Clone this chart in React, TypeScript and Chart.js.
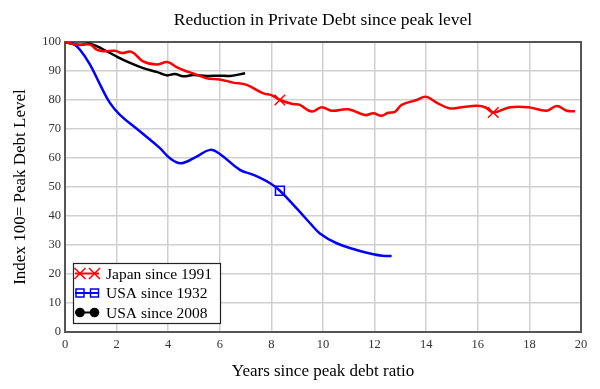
import React, { useEffect, useRef } from 'react';
import { Chart, registerables } from 'chart.js';

Chart.register(...registerables);

const chartTitle = 'Reduction in Private Debt since peak level';
const xAxisTitle = 'Years since peak debt ratio';
const yAxisTitle = 'Index 100= Peak Debt Level';
const seriesLabels = ['Japan since 1991', 'USA since 1932', 'USA since 2008'];
const seriesColors = ['#ff0000', '#0000ff', '#000000'];
const seriesMarkers = ['crossRot', 'rect', 'circle'];

const japanYears = [0, 0.45, 0.97, 1.23, 1.49, 1.94, 2.2, 2.58, 3.03, 3.55, 3.97, 4.33, 4.65, 4.97, 5.49, 6.0, 6.52, 7.04, 7.69, 8.0, 8.33, 8.85, 9.1, 9.56, 9.95, 10.34, 10.98, 11.63, 11.95, 12.27, 12.53, 12.8, 13.05, 13.63, 13.99, 14.4, 14.92, 15.45, 15.96, 16.28, 16.6, 17.25, 17.96, 18.67, 19.06, 19.45, 19.77];
const japanIndex = [100, 99.1, 99.1, 97.4, 96.8, 97, 96.2, 96.6, 93.3, 92.2, 93.1, 91.3, 90.1, 89.2, 87.5, 87.1, 86, 85.2, 82.3, 81.7, 80, 78.6, 78.3, 76, 77.5, 76.3, 76.8, 74.8, 75.4, 74.6, 75.6, 76, 78.3, 80, 81.1, 79.1, 77.1, 77.6, 78, 77.5, 75.7, 77.5, 77.5, 76.3, 77.9, 76.3, 76.1];
const japanMarkerYears = [8.33, 16.6];

const usa1932Years = [0, 0.3, 0.58, 0.97, 1.36, 1.74, 2.13, 2.9, 3.68, 4.07, 4.5, 5.1, 5.62, 6.0, 6.78, 7.3, 7.95, 8.33, 8.98, 9.5, 9.88, 10.53, 11.3, 11.95, 12.3, 12.66];
const usa1932Index = [100, 99.5, 97.3, 92.2, 85.3, 79, 74.9, 69.2, 63.4, 59.9, 58.2, 60.5, 62.8, 61.4, 55.9, 54.2, 51.3, 48.7, 42.6, 37.5, 34, 30.6, 28.3, 26.8, 26.3, 26.2];
const usa1932MarkerYears = [8.33];

const usa2008Years = [0, 0.32, 0.6, 0.97, 1.49, 2.0, 2.52, 3.03, 3.55, 3.94, 4.26, 4.58, 4.97, 5.49, 6.0, 6.4, 6.98];
const usa2008Index = [100, 99.3, 99, 99.4, 97.4, 95, 92.8, 91, 89.7, 88.5, 89, 88.2, 88.6, 88.3, 88.4, 88.3, 89.2];
const usa2008MarkerYears: number[] = [];

const FONT = "'Liberation Serif', 'Times New Roman', serif";

function toPoints(xs: number[], ys: number[]) {
  return xs.map((x, i) => ({ x, y: ys[i] }));
}

function drawMarker(ctx: CanvasRenderingContext2D, style: string, x: number, y: number, color: string) {
  ctx.save();
  ctx.strokeStyle = color;
  ctx.fillStyle = color;
  ctx.lineWidth = 1.5;
  ctx.beginPath();
  if (style === 'crossRot') {
    const r = 5.5;
    ctx.moveTo(x - r, y - r);
    ctx.lineTo(x + r, y + r);
    ctx.moveTo(x - r, y + r);
    ctx.lineTo(x + r, y - r);
    ctx.stroke();
  } else if (style === 'rect') {
    const r = 4;
    ctx.rect(x - r, y - r, 2 * r, 2 * r);
    ctx.stroke();
  } else {
    ctx.arc(x, y, 4.8, 0, Math.PI * 2);
    ctx.fill();
  }
  ctx.restore();
}

const framePlugin = {
  id: 'frame',
  beforeDatasetsDraw(chart: any) {
    const { ctx, chartArea } = chart;
    ctx.save();
    ctx.strokeStyle = '#555555';
    ctx.lineWidth = 2;
    ctx.strokeRect(chartArea.left, chartArea.top, chartArea.right - chartArea.left, chartArea.bottom - chartArea.top);
    ctx.restore();
  },
};

const boxLegendPlugin = {
  id: 'boxLegend',
  afterDraw(chart: any) {
    const { ctx, chartArea } = chart;
    const w = 147;
    const h = 60;
    const x0 = chartArea.left + 8;
    const y0 = chartArea.bottom - 9 - h;
    ctx.save();
    ctx.fillStyle = '#ffffff';
    ctx.fillRect(x0, y0, w, h);
    ctx.strokeStyle = '#222222';
    ctx.lineWidth = 1.2;
    ctx.strokeRect(x0 + 0.5, y0 + 0.5, w, h);
    chart.data.datasets.forEach((ds: any, i: number) => {
      const cy = y0 + 10.5 + i * 19.5;
      ctx.strokeStyle = ds.borderColor;
      ctx.lineWidth = 2;
      ctx.beginPath();
      ctx.moveTo(x0 + 2, cy);
      ctx.lineTo(x0 + 26, cy);
      ctx.stroke();
      drawMarker(ctx, ds.pointStyle, x0 + 7, cy, ds.borderColor);
      drawMarker(ctx, ds.pointStyle, x0 + 21.5, cy, ds.borderColor);
      ctx.fillStyle = '#000000';
      ctx.font = `15.5px ${FONT}`;
      ctx.textBaseline = 'middle';
      ctx.textAlign = 'left';
      ctx.fillText(ds.label, x0 + 33, cy + 1);
    });
    ctx.restore();
  },
};

function makeDataset(i: number, xs: number[], ys: number[], markers: number[]) {
  return {
    label: seriesLabels[i],
    data: toPoints(xs, ys),
    borderColor: seriesColors[i],
    backgroundColor: seriesColors[i],
    borderWidth: 2.5,
    pointStyle: seriesMarkers[i],
    pointRadius: (ctx: any) => (ctx.raw && markers.includes(ctx.raw.x) ? (seriesMarkers[i] === 'rect' ? 6.3 : 7.5) : 0),
    pointHoverRadius: 0,
    pointBorderWidth: 1.5,
    pointBorderColor: seriesColors[i],
    pointBackgroundColor: 'rgba(0,0,0,0)',
    tension: 0.4,
    fill: false,
  };
}

export default function App() {
  const canvasRef = useRef<HTMLCanvasElement | null>(null);

  useEffect(() => {
    document.body.style.margin = '0';
    const canvas = canvasRef.current;
    if (!canvas) return;
    const chart = new Chart(canvas, {
      type: 'line',
      data: {
        datasets: [
          makeDataset(0, japanYears, japanIndex, japanMarkerYears),
          makeDataset(1, usa1932Years, usa1932Index, usa1932MarkerYears),
          makeDataset(2, usa2008Years, usa2008Index, usa2008MarkerYears),
        ] as any,
      },
      options: {
        responsive: true,
        maintainAspectRatio: false,
        animation: false,
        layout: { padding: { left: 0, right: 19, top: 0, bottom: 0 } },
        plugins: {
          legend: { display: false },
          tooltip: { enabled: false },
          title: {
            display: true,
            text: chartTitle,
            fullSize: false,
            color: '#000000',
            font: { family: FONT, size: 17.5, weight: 'normal' as any, lineHeight: 1.2 },
            padding: { top: 10, bottom: 11 },
          },
        },
        scales: {
          x: {
            type: 'linear',
            min: 0,
            max: 20,
            border: { display: false },
            grid: { color: '#d0d0d0', lineWidth: 1.5, drawTicks: false },
            ticks: { stepSize: 2, padding: 5, color: '#333333', font: { family: FONT, size: 12.5 } },
            title: {
              display: true,
              text: xAxisTitle,
              color: '#000000',
              font: { family: FONT, size: 17, lineHeight: 1.2 },
              padding: { top: 0, bottom: 7 },
            },
            afterFit: (scale: any) => {
              scale.height = 57;
            },
          },
          y: {
            type: 'linear',
            min: 0,
            max: 100,
            border: { display: false },
            grid: { color: '#d0d0d0', lineWidth: 1.5, drawTicks: false },
            ticks: { stepSize: 10, padding: 4, color: '#333333', font: { family: FONT, size: 12.5 } },
            title: {
              display: true,
              text: yAxisTitle,
              color: '#000000',
              font: { family: FONT, size: 17, lineHeight: 1.2 },
              padding: { top: 10, bottom: 0 },
            },
            afterFit: (scale: any) => {
              scale.width = 65;
            },
          },
        },
      },
      plugins: [framePlugin, boxLegendPlugin],
    });
    return () => chart.destroy();
  }, []);

  return (
    <div style={{ position: 'fixed', left: 0, top: 0, width: 600, height: 389, background: '#ffffff' }}>
      <canvas ref={canvasRef} />
    </div>
  );
}
